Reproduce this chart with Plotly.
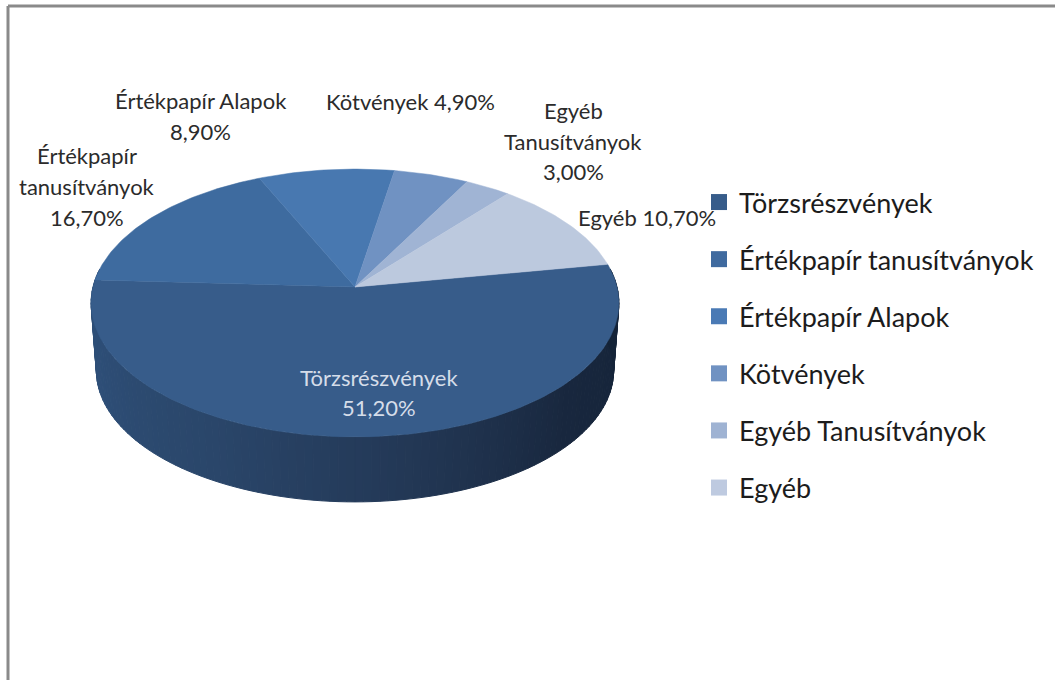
import math
import plotly.graph_objects as go

categories = ["Törzsrészvények", "Értékpapír tanusítványok", "Értékpapír Alapok",
              "Kötvények", "Egyéb Tanusítványok", "Egyéb"]
values = [51.2, 16.7, 8.9, 4.9, 3.0, 10.7]
face_colors = ["#375C8A", "#3E6B9F", "#4878B0", "#7092C2", "#A0B4D4", "#BCC9DE"]
legend_colors = ["#375C8A", "#3F6A9F", "#4A7AB5", "#7092C2", "#9FB3D3", "#BECAE0"]
side_stops = [(0.0, (44, 76, 115)), (0.12, (46, 79, 120)), (0.35, (42, 70, 106)),
              (0.55, (35, 56, 86)), (0.75, (24, 39, 62)), (1.0, (20, 35, 55))]
label_lines = [
    (379, 377, "Törzsrészvények", "#D5DDE9"), (379, 407, "51,20%", "#D5DDE9"),
    (87, 155, "Értékpapír", "#2B2B2B"), (87, 186, "tanusítványok", "#2B2B2B"), (87, 217, "16,70%", "#2B2B2B"),
    (201, 100, "Értékpapír Alapok", "#2B2B2B"), (200, 131, "8,90%", "#2B2B2B"),
    (410, 101, "Kötvények 4,90%", "#2B2B2B"),
    (573, 110, "Egyéb", "#2B2B2B"), (573, 141, "Tanusítványok", "#2B2B2B"), (573, 171, "3,00%", "#2B2B2B"),
    (647, 217, "Egyéb 10,70%", "#2B2B2B"),
]

X0, Y0, A, B, K = 355.0, 287.0, 262.0, 132.0, 0.1194
DEPTH, SHRINK = 68.0, 0.98
START_DEG = 10.1
FONT = "Lato"


def project(theta_deg, bottom=False):
    t = math.radians(theta_deg)
    u, v = math.cos(t), math.sin(t)
    d = 1 + K * v
    s = SHRINK if bottom else 1.0
    return X0 + s * A * u / d, Y0 + (DEPTH if bottom else 0) - s * B * v / d


def side_color(f):
    for (f0, c0), (f1, c1) in zip(side_stops, side_stops[1:]):
        if f <= f1:
            w = (f - f0) / (f1 - f0)
            return "rgb(%d,%d,%d)" % tuple(round(a + (b - a) * w) for a, b in zip(c0, c1))
    return "rgb(%d,%d,%d)" % side_stops[-1][1]


fig = go.Figure()

# side wall of the disc (front half), thin filled strips for the gradient
N = 120
for i in range(N):
    a0 = 172 + (368 - 172) * i / N
    a1 = 172 + (368 - 172) * (i + 1) / N
    p0, p1 = project(a0), project(a1)
    q0, q1 = project(a0, True), project(a1, True)
    col = side_color(i / (N - 1))
    fig.add_trace(go.Scatter(x=[p0[0], p1[0], q1[0], q0[0], p0[0]],
                             y=[p0[1], p1[1], q1[1], q0[1], p0[1]],
                             mode="lines", fill="toself", fillcolor=col,
                             line=dict(color=col, width=1), showlegend=False, hoverinfo="skip"))

# top face wedges from the values
total = sum(values)
angle = START_DEG
for name, val, col in zip(categories, values, face_colors):
    span = val / total * 360
    steps = max(6, int(span))
    xs, ys = [X0], [Y0]
    for j in range(steps + 1):
        px, py = project(angle - span * j / steps)
        xs.append(px)
        ys.append(py)
    xs.append(X0)
    ys.append(Y0)
    fig.add_trace(go.Scatter(x=xs, y=ys, mode="lines", fill="toself", fillcolor=col,
                             line=dict(color=col, width=0.5), showlegend=False,
                             name=name, hoverinfo="name"))
    angle -= span

# legend keys
for name, col in zip(categories, legend_colors):
    fig.add_trace(go.Scatter(x=[None], y=[None], mode="markers", name=name, legendgroup=name,
                             marker=dict(symbol="square", size=16, color=col)))

for x, y, text, col in label_lines:
    fig.add_annotation(x=x, y=y, text=text, showarrow=False, xanchor="center", yanchor="middle",
                       font=dict(family=FONT, size=22, color=col))

frame = dict(type="line", xref="x", yref="y", line=dict(color="#8A8A8A", width=3))
fig.add_shape(x0=8, y0=6, x1=8, y1=680, **frame)
fig.add_shape(x0=8, y0=6, x1=1055, y1=6, **frame)

fig.update_layout(
    width=1055, height=680, autosize=False,
    margin=dict(l=0, r=0, t=0, b=0),
    paper_bgcolor="white", plot_bgcolor="white",
    xaxis=dict(range=[0, 1055], visible=False, fixedrange=True),
    yaxis=dict(range=[680, 0], visible=False, fixedrange=True),
    showlegend=True,
    legend=dict(x=699 / 1055, y=1 - 178 / 680, xanchor="left", yanchor="top",
                tracegroupgap=19, font=dict(family=FONT, size=27, color="#1C1C1C"),
                bgcolor="rgba(0,0,0,0)", itemclick=False, itemdoubleclick=False),
)
fig.write_html("out.html", config={"displayModeBar": False},
               post_script="document.body.style.margin='0';document.documentElement.style.overflow='hidden';")
